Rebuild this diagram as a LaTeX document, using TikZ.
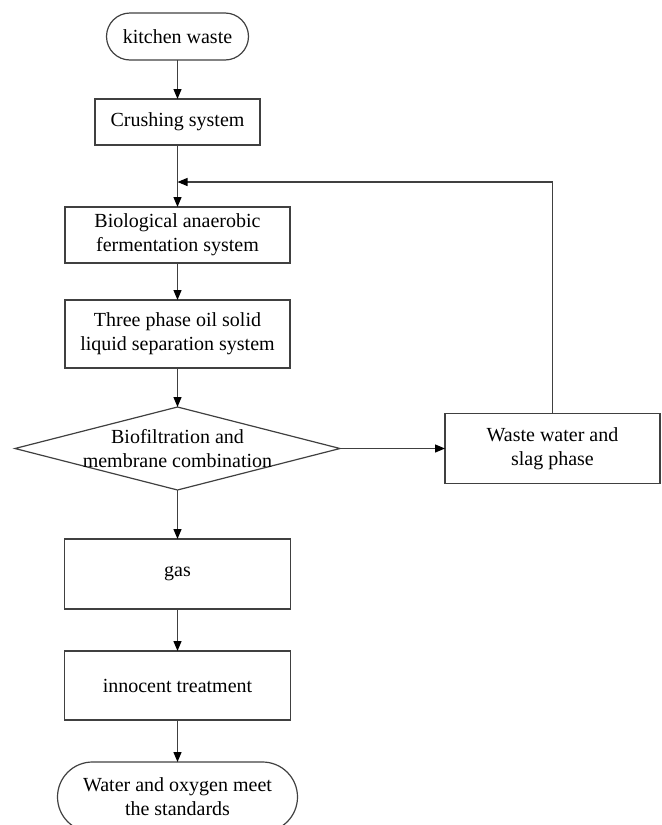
\documentclass[tikz,border=0pt]{standalone}
\usepackage{fontspec}
\setmainfont{Liberation Serif}
\usetikzlibrary{shapes.geometric, arrows.meta, positioning}

\begin{document}
\begin{tikzpicture}[
		node distance=20pt,
		% Define styles
		startstop/.style={rectangle, rounded corners=11.75pt, minimum width=71pt, minimum height=23.5pt, outer sep=0pt, text centered, draw=black!75, line width=0.6pt},
		process/.style={rectangle, minimum width=112.5pt, outer sep=0pt, text centered, align=center, draw=black!75, line width=0.6pt},
		decision/.style={diamond, minimum width=162.5pt, minimum height=41.5pt, inner sep=0pt, outer sep=0pt, draw=black!75, line width=0.6pt},
		arrow/.style={draw=black!75, line width=0.6pt, -{Triangle[length=5pt, width=4pt, color=black]}},
		line/.style={draw=black!75, line width=0.6pt}
		]
		
		% Page frame
		\useasboundingbox (0,0) rectangle (330.5pt,-412.5pt);
		\clip (0,0) rectangle (330.5pt,-412.5pt);
		
		% Start node
		\node (start) [startstop] at (88.75pt,-18.25pt) {kitchen waste};
		
		% Main chain
		\node (crush) [process, minimum width=82.5pt, minimum height=23pt, below=19.5pt of start] {Crushing system};
		\node (ferment) [process, minimum height=28pt, below=31pt of crush] {Biological anaerobic\\fermentation system};
		\node (separate) [process, minimum height=34pt, below=18.5pt of ferment] {Three phase oil solid\\liquid separation system};
		\node (filter) [decision, below=19.5pt of separate] {};
		\node (filtertext) [align=center] at (filter) {Biofiltration and\\membrane combination};
		
		% Side branch
		\node (waste) [process, minimum width=107.5pt, minimum height=35pt, right=52.5pt of filter] {Waste water and\\slag phase};
		
		% Lower chain
		\node (gas) [process, minimum width=113pt, minimum height=35pt, below=24.5pt of filter] {gas};
		\node (treat) [process, minimum width=113pt, minimum height=34.5pt, below=21pt of gas] {innocent treatment};
		\node (finish) [startstop, rounded corners=17.5pt, minimum width=120pt, minimum height=35pt, align=center, below=21pt of treat] {Water and oxygen meet\\the standards};
		
		% Feedback join point
		\coordinate (join) at (88.75pt,-91pt);
		
		% Draw arrows
		\draw [arrow] (start) -- (crush);
		\draw [arrow] (crush) -- (ferment);
		\draw [arrow] (ferment) -- (separate);
		\draw [arrow] (separate) -- (filter);
		\draw [arrow] (filter) -- (waste);
		\draw [arrow] (waste.north) |- (join);
		\draw [arrow] (filter) -- (gas);
		\draw [arrow] (gas) -- (treat);
		\draw [arrow] (treat) -- (finish);
		
	\end{tikzpicture}
\end{document}
